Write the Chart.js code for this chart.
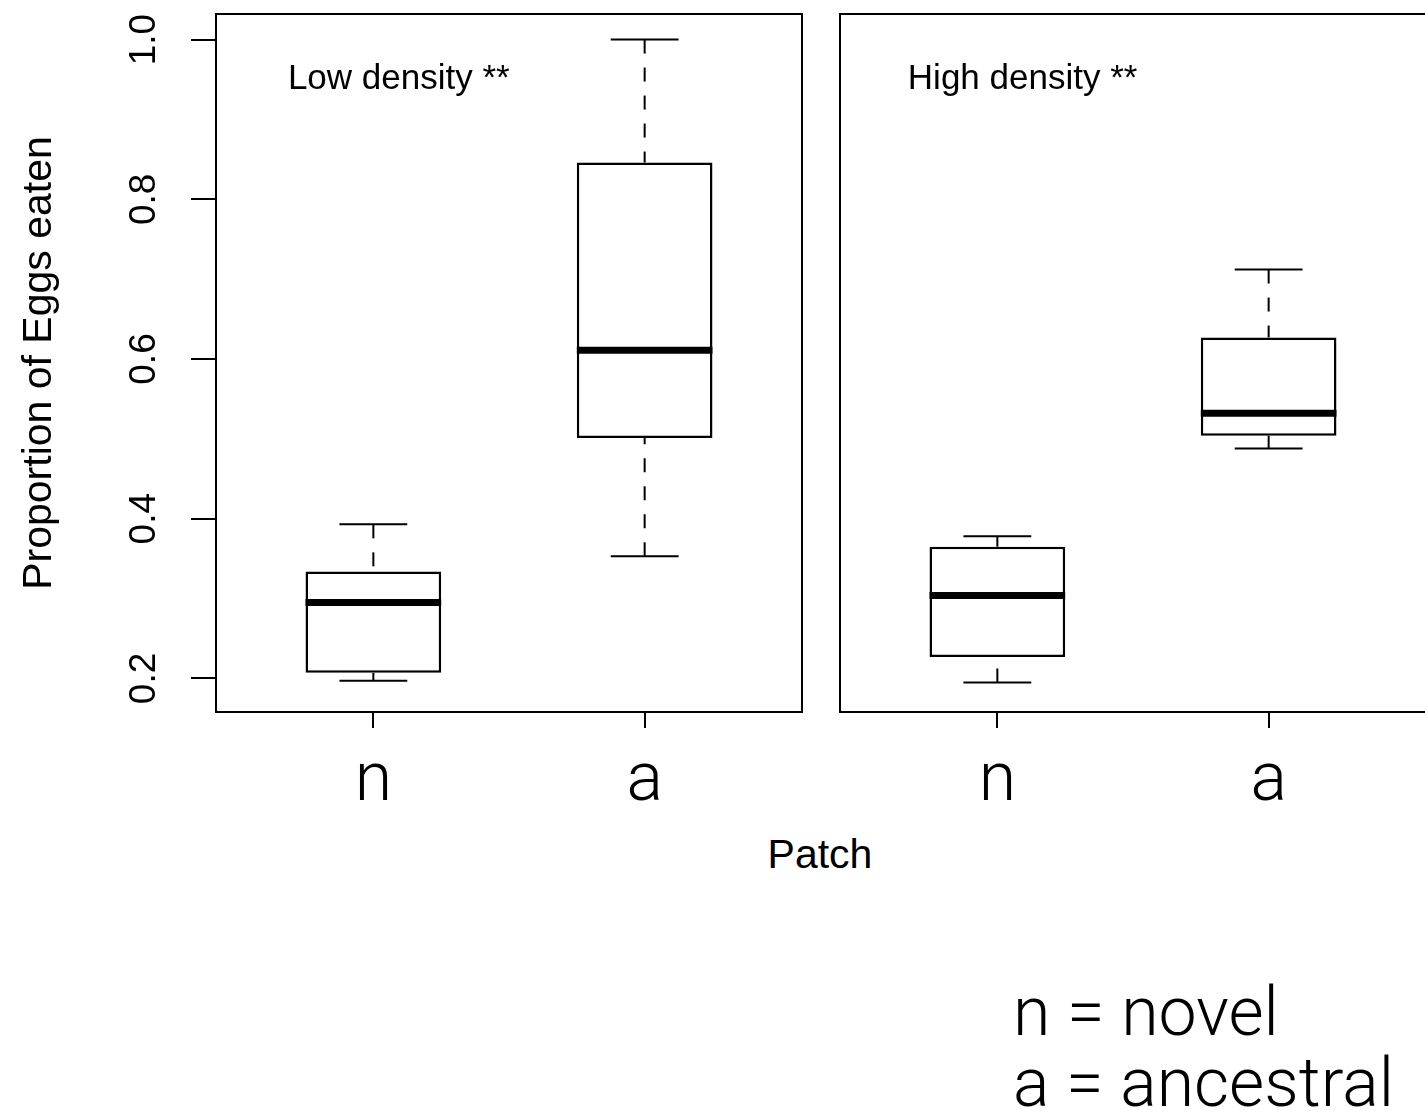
<!DOCTYPE html>
<html>
<head>
<meta charset="utf-8">
<script src="https://cdn.jsdelivr.net/npm/chart.js@4.4.0/dist/chart.umd.min.js"></script>
<style>
  body { margin: 0; background: #fff; overflow: hidden; width: 1425px; height: 1117px; position: relative; }
  canvas { position: absolute; top: 0; }
  #left { left: 0; }
  #right { left: 820px; }
  .label { position: absolute; color: #000; white-space: nowrap; }
  #patch { left: 820px; top: 834px; font: 41px/41px "Liberation Sans", Arial, sans-serif; transform: translateX(-50%); }
  #key { left: 1013px; top: 977px; font-family: Roboto, Inter, sans-serif; font-weight: 300; font-size: 68px; line-height: 71px; }
</style>
</head>
<body>
<canvas id="left" width="815" height="830"></canvas>
<canvas id="right" width="620" height="830"></canvas>
<div id="patch" class="label">Patch</div>
<div id="key" class="label">n = novel<br>a = ancestral</div>
<script>
const categories = ['n', 'a'];
const xPositions = [1, 2];
const yTicks = [0.2, 0.4, 0.6, 0.8, 1.0];
const panelTitles = ['Low density **', 'High density **'];

// low density panel
const lowMin = [0.197, 0.353];
const lowQ1 = [0.207, 0.501];
const lowMedian = [0.295, 0.611];
const lowQ3 = [0.334, 0.846];
const lowMax = [0.393, 1.0];

// high density panel
const highMin = [0.195, 0.488];
const highQ1 = [0.227, 0.504];
const highMedian = [0.304, 0.532];
const highQ3 = [0.365, 0.627];
const highMax = [0.378, 0.712];

const lightFont = 'Roboto';
const plainFont = 'Liberation Sans';

// whiskers, staples, medians, frame and panel note
function boxExtras(stats, title, noteX) {
  return {
    id: 'boxExtras',
    afterDatasetsDraw(chart) {
      const ctx = chart.ctx;
      const x = chart.scales.x;
      const y = chart.scales.y;
      const area = chart.chartArea;
      ctx.save();
      ctx.strokeStyle = '#000';
      xPositions.forEach((pos, i) => {
        const cx = x.getPixelForValue(pos);
        const half = x.getPixelForValue(pos + 0.25) - cx;

        ctx.lineWidth = 2;
        ctx.setLineDash([14, 14]);
        [[stats.max[i], stats.q3[i]], [stats.min[i], stats.q1[i]]].forEach(([from, to]) => {
          ctx.beginPath();
          ctx.moveTo(cx, y.getPixelForValue(from));
          ctx.lineTo(cx, y.getPixelForValue(to));
          ctx.stroke();
        });
        ctx.setLineDash([]);

        [stats.max[i], stats.min[i]].forEach(v => {
          const py = y.getPixelForValue(v);
          ctx.beginPath();
          ctx.moveTo(cx - half / 2, py);
          ctx.lineTo(cx + half / 2, py);
          ctx.stroke();
        });

        ctx.lineWidth = 7;
        const my = y.getPixelForValue(stats.median[i]);
        ctx.beginPath();
        ctx.moveTo(cx - half, my);
        ctx.lineTo(cx + half, my);
        ctx.stroke();
      });

      ctx.lineWidth = 2;
      ctx.strokeRect(area.left, area.top, area.right - area.left, area.bottom - area.top);

      ctx.fillStyle = '#000';
      ctx.font = '35px "' + plainFont + '"';
      ctx.textAlign = 'left';
      ctx.textBaseline = 'alphabetic';
      ctx.fillText(title, x.getPixelForValue(noteX), y.getPixelForValue(0.938));
      ctx.restore();
    }
  };
}

function makeChart(id, stats, title, noteX, showY, padLeft, padRight) {
  return new Chart(document.getElementById(id), {
    type: 'bar',
    data: {
      datasets: [{
        data: xPositions.map((p, i) => ({ x: p, y: [stats.q1[i], stats.q3[i]] })),
        backgroundColor: '#fff',
        borderColor: '#000',
        borderWidth: 2.5,
        borderSkipped: false,
        barPercentage: 0.5,
        categoryPercentage: 1
      }]
    },
    options: {
      responsive: false,
      animation: false,
      events: [],
      layout: { padding: { top: 14, right: padRight, left: padLeft, bottom: 0 } },
      plugins: { legend: { display: false }, tooltip: { enabled: false } },
      scales: {
        x: {
          type: 'linear',
          min: 0.42,
          max: 2.58,
          offset: false,
          afterBuildTicks: s => { s.ticks = xPositions.map(v => ({ value: v })); },
          afterFit: s => {
            s.height = 118;
            s.paddingLeft = 0;
            s.paddingRight = 0;
          },
          grid: { offset: false, drawOnChartArea: false, drawTicks: true, tickLength: 16, color: '#000', lineWidth: 2 },
          border: { display: false },
          ticks: {
            padding: 14,
            autoSkip: false,
            maxRotation: 0,
            color: '#000',
            font: { family: lightFont, weight: '300', size: 68 },
            callback: v => categories[xPositions.indexOf(v)]
          }
        },
        y: {
          display: showY,
          min: 0.158,
          max: 1.032,
          afterBuildTicks: s => { s.ticks = yTicks.map(v => ({ value: v })); },
          afterFit: s => {
            s.width = showY ? 216 : 0;
            s.paddingTop = 0;
            s.paddingBottom = 0;
          },
          grid: { drawOnChartArea: false, tickLength: 25, color: '#000', lineWidth: 2 },
          border: { display: false },
          ticks: {
            minRotation: 90,
            maxRotation: 90,
            crossAlign: 'center',
            padding: 20,
            autoSkip: false,
            color: '#000',
            font: { family: plainFont, size: 37 },
            callback: v => v.toFixed(1)
          },
          title: {
            display: true,
            text: 'Proportion of Eggs eaten',
            color: '#000',
            font: { family: plainFont, size: 41 },
            padding: { top: 15, bottom: 0 }
          }
        }
      }
    },
    plugins: [boxExtras(stats, title, noteX)]
  });
}

makeChart('left',
  { min: lowMin, q1: lowQ1, median: lowMedian, q3: lowQ3, max: lowMax },
  panelTitles[0], 0.685, true, 0, 13);
makeChart('right',
  { min: highMin, q1: highQ1, median: highMedian, q3: highQ3, max: highMax },
  panelTitles[1], 0.67, false, 20, 14);
</script>
</body>
</html>
